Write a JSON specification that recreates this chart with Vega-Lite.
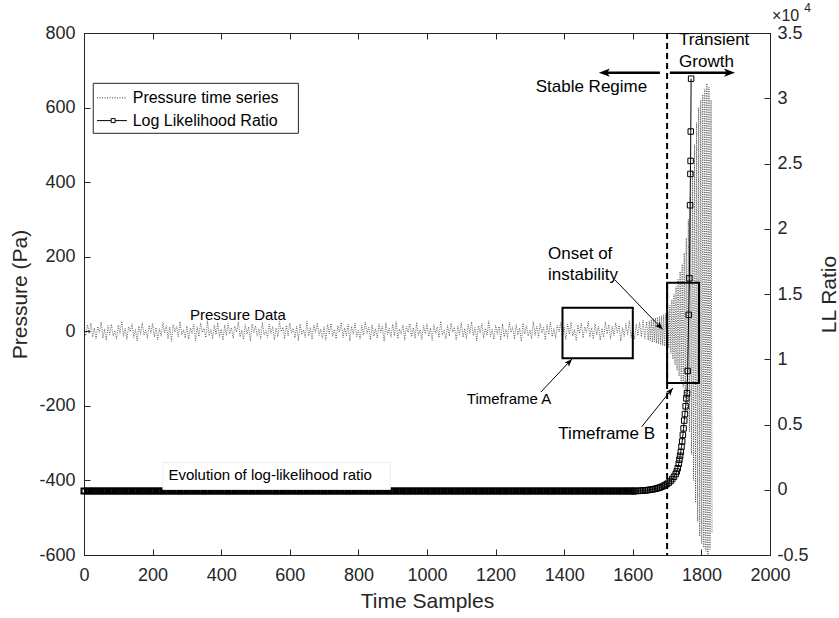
{
"$schema":"https://vega.github.io/schema/vega-lite/v6.json",
"width":686,"height":522,
"autosize":{"type":"none"},
"padding":{"left":84,"top":33,"right":69,"bottom":63},
"background":"white",
"config":{"font":"Liberation Sans","view":{"stroke":"#262626","strokeWidth":1},
"axis":{"domainColor":"#262626","domainWidth":1,"tickColor":"#262626","tickWidth":1,"labelColor":"#262626","titleColor":"#262626","labelFont":"Liberation Sans","titleFont":"Liberation Sans","labelFontSize":18,"titleFontSize":21,"titleFontWeight":"normal","grid":false,"labelFlush":false,"labelOverlap":false,"tickSize":-6}},
"datasets":{
"pres":[{"t":0,"p":4},{"t":5,"p":-12},{"t":10,"p":18},{"t":15,"p":-7},{"t":20,"p":22},{"t":25,"p":-15},{"t":30,"p":9},{"t":35,"p":-20},{"t":40,"p":13},{"t":45,"p":-3},{"t":50,"p":25},{"t":55,"p":-18},{"t":60,"p":6},{"t":65,"p":-24},{"t":70,"p":15},{"t":75,"p":-9},{"t":80,"p":19},{"t":85,"p":-13},{"t":90,"p":2},{"t":95,"p":-21},
{"t":100,"p":17},{"t":105,"p":-6},{"t":110,"p":27},{"t":115,"p":-14},{"t":120,"p":8},{"t":125,"p":-22},{"t":130,"p":12},{"t":135,"p":-1},{"t":140,"p":20},{"t":145,"p":-17},{"t":150,"p":5},{"t":155,"p":-26},{"t":160,"p":14},{"t":165,"p":-8},{"t":170,"p":23},{"t":175,"p":-11},{"t":180,"p":3},{"t":185,"p":-19},{"t":190,"p":16},{"t":195,"p":-5},
{"t":200,"p":21},{"t":205,"p":-16},{"t":210,"p":10},{"t":215,"p":-23},{"t":220,"p":7},{"t":225,"p":-13},{"t":230,"p":24},{"t":235,"p":-4},{"t":240,"p":15},{"t":245,"p":-20},{"t":250,"p":11},{"t":255,"p":-27},{"t":260,"p":18},{"t":265,"p":-2},{"t":270,"p":13},{"t":275,"p":-15},{"t":280,"p":26},{"t":285,"p":-10},{"t":290,"p":4},{"t":295,"p":-18},
{"t":300,"p":14},{"t":305,"p":-21},{"t":310,"p":9},{"t":315,"p":-6},{"t":320,"p":19},{"t":325,"p":-25},{"t":330,"p":12},{"t":335,"p":-14},{"t":340,"p":22},{"t":345,"p":-3},{"t":350,"p":8},{"t":355,"p":-17},{"t":360,"p":28},{"t":365,"p":-12},{"t":370,"p":5},{"t":375,"p":-20},{"t":380,"p":16},{"t":385,"p":-9},{"t":390,"p":23},{"t":395,"p":-16},
{"t":400,"p":6},{"t":405,"p":-24},{"t":410,"p":17},{"t":415,"p":-11},{"t":420,"p":21},{"t":425,"p":-7},{"t":430,"p":10},{"t":435,"p":-19},{"t":440,"p":14},{"t":445,"p":-2},{"t":450,"p":25},{"t":455,"p":-15},{"t":460,"p":3},{"t":465,"p":-22},{"t":470,"p":18},{"t":475,"p":-8},{"t":480,"p":12},{"t":485,"p":-26},{"t":490,"p":20},{"t":495,"p":-4},
{"t":500,"p":15},{"t":505,"p":-13},{"t":510,"p":7},{"t":515,"p":-21},{"t":520,"p":24},{"t":525,"p":-10},{"t":530,"p":2},{"t":535,"p":-17},{"t":540,"p":19},{"t":545,"p":-6},{"t":550,"p":13},{"t":555,"p":-23},{"t":560,"p":9},{"t":565,"p":-15},{"t":570,"p":26},{"t":575,"p":-1},{"t":580,"p":11},{"t":585,"p":-20},{"t":590,"p":16},{"t":595,"p":-12},
{"t":600,"p":22},{"t":605,"p":-5},{"t":610,"p":8},{"t":615,"p":-18},{"t":620,"p":14},{"t":625,"p":-25},{"t":630,"p":20},{"t":635,"p":-9},{"t":640,"p":4},{"t":645,"p":-16},{"t":650,"p":27},{"t":655,"p":-13},{"t":660,"p":10},{"t":665,"p":-22},{"t":670,"p":17},{"t":675,"p":-3},{"t":680,"p":23},{"t":685,"p":-11},{"t":690,"p":6},{"t":695,"p":-19},
{"t":700,"p":12},{"t":705,"p":-24},{"t":710,"p":18},{"t":715,"p":-7},{"t":720,"p":21},{"t":725,"p":-14},{"t":730,"p":5},{"t":735,"p":-20},{"t":740,"p":15},{"t":745,"p":-2},{"t":750,"p":24},{"t":755,"p":-17},{"t":760,"p":9},{"t":765,"p":-12},{"t":770,"p":19},{"t":775,"p":-26},{"t":780,"p":13},{"t":785,"p":-8},{"t":790,"p":22},{"t":795,"p":-15},
{"t":800,"p":3},{"t":805,"p":-21},{"t":810,"p":16},{"t":815,"p":-10},{"t":820,"p":25},{"t":825,"p":-6},{"t":830,"p":11},{"t":835,"p":-23},{"t":840,"p":18},{"t":845,"p":-13},{"t":850,"p":7},{"t":855,"p":-18},{"t":860,"p":20},{"t":865,"p":-4},{"t":870,"p":14},{"t":875,"p":-27},{"t":880,"p":23},{"t":885,"p":-9},{"t":890,"p":8},{"t":895,"p":-16},
{"t":900,"p":19},{"t":905,"p":-12},{"t":910,"p":26},{"t":915,"p":-20},{"t":920,"p":6},{"t":925,"p":-8},{"t":930,"p":17},{"t":935,"p":-24},{"t":940,"p":13},{"t":945,"p":-3},{"t":950,"p":21},{"t":955,"p":-15},{"t":960,"p":10},{"t":965,"p":-19},{"t":970,"p":24},{"t":975,"p":-11},{"t":980,"p":4},{"t":985,"p":-22},{"t":990,"p":15},{"t":995,"p":-7},
{"t":1000,"p":20},{"t":1005,"p":-14},{"t":1010,"p":9},{"t":1015,"p":-25},{"t":1020,"p":18},{"t":1025,"p":-5},{"t":1030,"p":12},{"t":1035,"p":-17},{"t":1040,"p":27},{"t":1045,"p":-10},{"t":1050,"p":3},{"t":1055,"p":-21},{"t":1060,"p":16},{"t":1065,"p":-13},{"t":1070,"p":22},{"t":1075,"p":-2},{"t":1080,"p":11},{"t":1085,"p":-23},{"t":1090,"p":14},{"t":1095,"p":-9},
{"t":1100,"p":23},{"t":1105,"p":-16},{"t":1110,"p":7},{"t":1115,"p":-20},{"t":1120,"p":19},{"t":1125,"p":-6},{"t":1130,"p":25},{"t":1135,"p":-12},{"t":1140,"p":10},{"t":1145,"p":-26},{"t":1150,"p":15},{"t":1155,"p":-4},{"t":1160,"p":21},{"t":1165,"p":-18},{"t":1170,"p":8},{"t":1175,"p":-11},{"t":1180,"p":28},{"t":1185,"p":-14},{"t":1190,"p":5},{"t":1195,"p":-22},
{"t":1200,"p":17},{"t":1205,"p":-8},{"t":1210,"p":13},{"t":1215,"p":-24},{"t":1220,"p":20},{"t":1225,"p":-15},{"t":1230,"p":6},{"t":1235,"p":-19},{"t":1240,"p":24},{"t":1245,"p":-3},{"t":1250,"p":12},{"t":1255,"p":-21},{"t":1260,"p":18},{"t":1265,"p":-10},{"t":1270,"p":9},{"t":1275,"p":-27},{"t":1280,"p":22},{"t":1285,"p":-7},{"t":1290,"p":15},{"t":1295,"p":-13},
{"t":1300,"p":4},{"t":1305,"p":-20},{"t":1310,"p":26},{"t":1315,"p":-11},{"t":1320,"p":14},{"t":1325,"p":-17},{"t":1330,"p":21},{"t":1335,"p":-5},{"t":1340,"p":10},{"t":1345,"p":-23},{"t":1350,"p":18},{"t":1355,"p":-9},{"t":1360,"p":25},{"t":1365,"p":-14},{"t":1370,"p":7},{"t":1375,"p":-19},{"t":1380,"p":16},{"t":1385,"p":-2},{"t":1390,"p":23},{"t":1395,"p":-16},
{"t":1400,"p":11},{"t":1405,"p":-22},{"t":1410,"p":19},{"t":1415,"p":-8},{"t":1420,"p":24},{"t":1425,"p":-13},{"t":1430,"p":5},{"t":1435,"p":-25},{"t":1440,"p":17},{"t":1445,"p":-6},{"t":1450,"p":22},{"t":1455,"p":-18},{"t":1460,"p":12},{"t":1465,"p":-3},{"t":1470,"p":27},{"t":1475,"p":-15},{"t":1480,"p":9},{"t":1485,"p":-21},{"t":1490,"p":20},{"t":1495,"p":-10},
{"t":1500,"p":14},{"t":1505,"p":-24},{"t":1510,"p":8},{"t":1515,"p":-16},{"t":1520,"p":25},{"t":1525,"p":-7},{"t":1530,"p":18},{"t":1535,"p":-20},{"t":1540,"p":13},{"t":1545,"p":-11},{"t":1550,"p":23},{"t":1555,"p":-4},{"t":1560,"p":16},{"t":1565,"p":-26},{"t":1570,"p":10},{"t":1575,"p":-14},{"t":1580,"p":21},{"t":1585,"p":-9},{"t":1590,"p":28},{"t":1595,"p":-17},
{"t":1600,"p":6},{"t":1605,"p":-22},{"t":1610,"p":19},{"t":1615,"p":-12},{"t":1620,"p":24},{"t":1625,"p":-15},{"t":1630,"p":30},{"t":1635,"p":-20},{"t":1640,"p":26},
{"t":1645,"p":-24},{"t":1648,"p":28},{"t":1651,"p":-26},{"t":1654,"p":32},{"t":1657,"p":-30},{"t":1660,"p":34},{"t":1663,"p":-28},{"t":1666,"p":36},{"t":1669,"p":-32},{"t":1672,"p":38},{"t":1675,"p":-34},{"t":1678,"p":40},{"t":1681,"p":-36},{"t":1684,"p":42},{"t":1687,"p":-38},{"t":1690,"p":45},{"t":1693,"p":-40},{"t":1696,"p":48},{"t":1699,"p":-30},{"t":1702,"p":55},{"t":1705,"p":-45},{"t":1708,"p":70},{"t":1711,"p":-60},{"t":1714,"p":85},{"t":1717,"p":-75},{"t":1720,"p":100},{"t":1723,"p":-90},{"t":1726,"p":120},{"t":1729,"p":-105},{"t":1732,"p":140},{"t":1735,"p":-120},{"t":1738,"p":160},{"t":1741,"p":-135},{"t":1744,"p":180},{"t":1747,"p":-150},{"t":1750,"p":210},{"t":1753,"p":-180},{"t":1756,"p":250},{"t":1759,"p":-220},{"t":1762,"p":300},{"t":1765,"p":-270},{"t":1768,"p":360},{"t":1771,"p":-330},{"t":1774,"p":430},{"t":1777,"p":-400},{"t":1780,"p":500},{"t":1783,"p":-460},{"t":1786,"p":560},{"t":1789,"p":-510},{"t":1792,"p":600},{"t":1795,"p":-550},{"t":1798,"p":620},{"t":1801,"p":-570},{"t":1804,"p":635},{"t":1807,"p":-580},{"t":1810,"p":650},{"t":1813,"p":-590},{"t":1816,"p":665},{"t":1819,"p":-600},{"t":1822,"p":655},{"t":1825,"p":-585},{"t":1828,"p":620},{"t":1831,"p":-540}],
"llflat":[{"t":0,"l":-0.01},{"t":10,"l":-0.01},{"t":20,"l":-0.01},{"t":30,"l":-0.01},{"t":40,"l":-0.01},{"t":50,"l":-0.01},{"t":60,"l":-0.01},{"t":70,"l":-0.01},{"t":80,"l":-0.01},{"t":90,"l":-0.01},{"t":100,"l":-0.01},{"t":110,"l":-0.01},{"t":120,"l":-0.01},{"t":130,"l":-0.01},{"t":140,"l":-0.01},{"t":150,"l":-0.01},{"t":160,"l":-0.01},{"t":170,"l":-0.01},{"t":180,"l":-0.01},{"t":190,"l":-0.01},{"t":200,"l":-0.01},{"t":210,"l":-0.01},{"t":220,"l":-0.01},{"t":230,"l":-0.01},{"t":240,"l":-0.01},{"t":250,"l":-0.01},{"t":260,"l":-0.01},{"t":270,"l":-0.01},{"t":280,"l":-0.01},{"t":290,"l":-0.01},{"t":300,"l":-0.01},{"t":310,"l":-0.01},{"t":320,"l":-0.01},{"t":330,"l":-0.01},{"t":340,"l":-0.01},{"t":350,"l":-0.01},{"t":360,"l":-0.01},{"t":370,"l":-0.01},{"t":380,"l":-0.01},{"t":390,"l":-0.01},{"t":400,"l":-0.01},{"t":410,"l":-0.01},{"t":420,"l":-0.01},{"t":430,"l":-0.01},{"t":440,"l":-0.01},{"t":450,"l":-0.01},{"t":460,"l":-0.01},{"t":470,"l":-0.01},{"t":480,"l":-0.01},{"t":490,"l":-0.01},{"t":500,"l":-0.01},{"t":510,"l":-0.01},{"t":520,"l":-0.01},{"t":530,"l":-0.01},{"t":540,"l":-0.01},{"t":550,"l":-0.01},{"t":560,"l":-0.01},{"t":570,"l":-0.01},{"t":580,"l":-0.01},{"t":590,"l":-0.01},{"t":600,"l":-0.01},{"t":610,"l":-0.01},{"t":620,"l":-0.01},{"t":630,"l":-0.01},{"t":640,"l":-0.01},{"t":650,"l":-0.01},{"t":660,"l":-0.01},{"t":670,"l":-0.01},{"t":680,"l":-0.01},{"t":690,"l":-0.01},{"t":700,"l":-0.01},{"t":710,"l":-0.01},{"t":720,"l":-0.01},{"t":730,"l":-0.01},{"t":740,"l":-0.01},{"t":750,"l":-0.01},{"t":760,"l":-0.01},{"t":770,"l":-0.01},{"t":780,"l":-0.01},{"t":790,"l":-0.01},{"t":800,"l":-0.01},{"t":810,"l":-0.01},{"t":820,"l":-0.01},{"t":830,"l":-0.01},{"t":840,"l":-0.01},{"t":850,"l":-0.01},{"t":860,"l":-0.01},{"t":870,"l":-0.01},{"t":880,"l":-0.01},{"t":890,"l":-0.01},{"t":900,"l":-0.01},{"t":910,"l":-0.01},{"t":920,"l":-0.01},{"t":930,"l":-0.01},{"t":940,"l":-0.01},{"t":950,"l":-0.01},{"t":960,"l":-0.01},{"t":970,"l":-0.01},{"t":980,"l":-0.01},{"t":990,"l":-0.01},{"t":1000,"l":-0.01},{"t":1010,"l":-0.01},{"t":1020,"l":-0.01},{"t":1030,"l":-0.01},{"t":1040,"l":-0.01},{"t":1050,"l":-0.01},{"t":1060,"l":-0.01},{"t":1070,"l":-0.01},{"t":1080,"l":-0.01},{"t":1090,"l":-0.01},{"t":1100,"l":-0.01},{"t":1110,"l":-0.01},{"t":1120,"l":-0.01},{"t":1130,"l":-0.01},{"t":1140,"l":-0.01},{"t":1150,"l":-0.01},{"t":1160,"l":-0.01},{"t":1170,"l":-0.01},{"t":1180,"l":-0.01},{"t":1190,"l":-0.01},{"t":1200,"l":-0.01},{"t":1210,"l":-0.01},{"t":1220,"l":-0.01},{"t":1230,"l":-0.01},{"t":1240,"l":-0.01},{"t":1250,"l":-0.01},{"t":1260,"l":-0.01},{"t":1270,"l":-0.01},{"t":1280,"l":-0.01},{"t":1290,"l":-0.01},{"t":1300,"l":-0.01},{"t":1310,"l":-0.01},{"t":1320,"l":-0.01},{"t":1330,"l":-0.01},{"t":1340,"l":-0.01},{"t":1350,"l":-0.01},{"t":1360,"l":-0.01},{"t":1370,"l":-0.01},{"t":1380,"l":-0.01},{"t":1390,"l":-0.01},{"t":1400,"l":-0.01},{"t":1410,"l":-0.01},{"t":1420,"l":-0.01},{"t":1430,"l":-0.01},{"t":1440,"l":-0.01},{"t":1450,"l":-0.01},{"t":1460,"l":-0.01},{"t":1470,"l":-0.01},{"t":1480,"l":-0.01},{"t":1490,"l":-0.01},{"t":1500,"l":-0.01},{"t":1510,"l":-0.01},{"t":1520,"l":-0.01},{"t":1530,"l":-0.01},{"t":1540,"l":-0.01},{"t":1550,"l":-0.01},{"t":1560,"l":-0.01},{"t":1570,"l":-0.01},{"t":1580,"l":-0.01},{"t":1590,"l":-0.01},{"t":1600,"l":-0.01}],
"llrise":[{"t":1600,"l":-0.01},{"t":1605,"l":-0.01},{"t":1610,"l":-0.009},{"t":1615,"l":-0.009},{"t":1620,"l":-0.008},{"t":1625,"l":-0.007},{"t":1630,"l":-0.006},{"t":1635,"l":-0.005},{"t":1640,"l":-0.004},{"t":1645,"l":-0.002},{"t":1650,"l":0},{"t":1655,"l":0.002},{"t":1660,"l":0.004},{"t":1665,"l":0.007},{"t":1670,"l":0.01},{"t":1675,"l":0.014},{"t":1680,"l":0.018},{"t":1685,"l":0.023},{"t":1690,"l":0.03},{"t":1695,"l":0.037},{"t":1700,"l":0.045},{"t":1705,"l":0.055},{"t":1710,"l":0.067},{"t":1715,"l":0.082},{"t":1720,"l":0.1},{"t":1725,"l":0.12},{"t":1728,"l":0.14},{"t":1731,"l":0.165},{"t":1734,"l":0.2},{"t":1736,"l":0.23},{"t":1738,"l":0.26},{"t":1740,"l":0.29},{"t":1742,"l":0.33},{"t":1744,"l":0.37},{"t":1746,"l":0.42},{"t":1748,"l":0.47},{"t":1750,"l":0.53},{"t":1752,"l":0.58},{"t":1754,"l":0.64},{"t":1756,"l":0.7},{"t":1758,"l":0.74},{"t":1760,"l":0.91},{"t":1763,"l":1.34},{"t":1765,"l":1.62},{"t":1767,"l":2.18},{"t":1768,"l":2.42},{"t":1768.5,"l":2.52},{"t":1769,"l":2.745},{"t":1770,"l":3.15}]
},
"resolve":{"scale":{"y":"independent"},"axis":{"x":"independent"}},
"layer":[
{"data":{"name":"pres"},
 "mark":{"type":"line","stroke":"#222222","strokeWidth":0.7,"strokeDash":[1,1.3]},
 "encoding":{
  "x":{"field":"t","type":"quantitative","scale":{"domain":[0,2000],"nice":false,"zero":false},
   "axis":{"orient":"bottom","values":[0,200,400,600,800,1000,1200,1400,1600,1800,2000],"labelExpr":"'' + datum.value","title":"Time Samples","labelPadding":17,"titlePadding":6}},
  "y":{"field":"p","type":"quantitative","scale":{"domain":[-600,800],"nice":false,"zero":false},
   "axis":{"orient":"left","values":[-600,-400,-200,0,200,400,600,800],"labelExpr":"'' + datum.value","title":"Pressure (Pa)","labelPadding":15,"titlePadding":8}}}},
{"layer":[
 {"data":{"name":"llrise"},"mark":{"type":"line","stroke":"#000","strokeWidth":1},
  "encoding":{"x":{"field":"t","type":"quantitative","scale":{"domain":[0,2000],"nice":false,"zero":false},"axis":null},
   "y":{"field":"l","type":"quantitative","scale":{"domain":[-0.5,3.5],"nice":false,"zero":false},
    "axis":{"orient":"right","values":[-0.5,0,0.5,1,1.5,2,2.5,3,3.5],"labelExpr":"'' + datum.value","title":"LL Ratio","titleAngle":270,"titleBaseline":"top","labelPadding":13,"titlePadding":10}}}},
 {"data":{"name":"llflat"},"mark":{"type":"line","stroke":"#000","strokeWidth":1},
  "encoding":{"x":{"field":"t","type":"quantitative"},"y":{"field":"l","type":"quantitative"}}},
 {"data":{"name":"llflat"},"mark":{"type":"point","shape":"square","filled":false,"stroke":"#000","strokeWidth":2,"size":25,"opacity":1},
  "encoding":{"x":{"field":"t","type":"quantitative"},"y":{"field":"l","type":"quantitative"}}},
 {"data":{"name":"llrise"},"mark":{"type":"point","shape":"square","filled":false,"stroke":"#000","strokeWidth":1,"size":30,"opacity":1},
  "encoding":{"x":{"field":"t","type":"quantitative"},"y":{"field":"l","type":"quantitative"}}}
]},
{"layer":[
 {"data":{"values":[{"x":230,"x2":893,"y":-352,"y2":-424}]},"mark":{"type":"rect","fill":"white","stroke":"#eeeeee","strokeWidth":1},
  "encoding":{"x":{"field":"x","type":"quantitative","scale":{"domain":[0,2000],"nice":false,"zero":false},
    "axis":{"orient":"top","values":[0,200,400,600,800,1000,1200,1400,1600,1800,2000],"labels":false,"title":null,"tickSize":-6}},
   "x2":{"field":"x2"},
   "y":{"field":"y","type":"quantitative","scale":{"domain":[-600,800],"nice":false,"zero":false},"axis":null},"y2":{"field":"y2"}}},
 {"data":{"values":[{"x":1395,"x2":1600,"y":-72,"y2":63},{"x":1700,"x2":1793,"y":-139,"y2":130}]},"mark":{"type":"rect","filled":false,"stroke":"#000","strokeWidth":2},
  "encoding":{"x":{"field":"x","type":"quantitative"},"x2":{"field":"x2"},"y":{"field":"y","type":"quantitative","axis":null},"y2":{"field":"y2"}}},
 {"data":{"values":[{"x":1700}]},"mark":{"type":"rule","stroke":"#000","strokeWidth":2,"strokeDash":[6,4]},
  "encoding":{"x":{"field":"x","type":"quantitative"}}},
 {"data":{"values":[{"x":1548,"y":138,"x2":1687,"y2":5},{"x":1332,"y":-163,"x2":1423,"y2":-74},{"x":1626,"y":-256,"x2":1717,"y2":-152}]},"mark":{"type":"rule","stroke":"#000","strokeWidth":1},
  "encoding":{"x":{"field":"x","type":"quantitative"},"x2":{"field":"x2"},"y":{"field":"y","type":"quantitative","axis":null},"y2":{"field":"y2"}}},
 {"data":{"values":[{"x":1679,"y":693.5,"x2":1515,"y2":693.5},{"x":1708,"y":693.5,"x2":1885,"y2":693.5}]},"mark":{"type":"rule","stroke":"#000","strokeWidth":2.5},
  "encoding":{"x":{"field":"x","type":"quantitative"},"x2":{"field":"x2"},"y":{"field":"y","type":"quantitative","axis":null},"y2":{"field":"y2"}}},
 {"data":{"values":[{"x":1687,"y":5}]},"mark":{"type":"point","shape":"M0,0L0.6,1.6L0,1.2L-0.6,1.6Z","filled":true,"fill":"#000","strokeWidth":0,"size":100,"angle":136,"opacity":1},
  "encoding":{"x":{"field":"x","type":"quantitative"},"y":{"field":"y","type":"quantitative","axis":null}}},
 {"data":{"values":[{"x":1423,"y":-74}]},"mark":{"type":"point","shape":"M0,0L0.6,1.6L0,1.2L-0.6,1.6Z","filled":true,"fill":"#000","strokeWidth":0,"size":100,"angle":43,"opacity":1},
  "encoding":{"x":{"field":"x","type":"quantitative"},"y":{"field":"y","type":"quantitative","axis":null}}},
 {"data":{"values":[{"x":1717,"y":-152}]},"mark":{"type":"point","shape":"M0,0L0.6,1.6L0,1.2L-0.6,1.6Z","filled":true,"fill":"#000","strokeWidth":0,"size":100,"angle":39,"opacity":1},
  "encoding":{"x":{"field":"x","type":"quantitative"},"y":{"field":"y","type":"quantitative","axis":null}}},
 {"data":{"values":[{"x":1501,"y":693.5}]},"mark":{"type":"point","shape":"M0,0L0.6,1.6L0,1.2L-0.6,1.6Z","filled":true,"fill":"#000","strokeWidth":0,"size":190,"angle":270,"opacity":1},
  "encoding":{"x":{"field":"x","type":"quantitative"},"y":{"field":"y","type":"quantitative","axis":null}}},
 {"data":{"values":[{"x":1898,"y":693.5}]},"mark":{"type":"point","shape":"M0,0L0.6,1.6L0,1.2L-0.6,1.6Z","filled":true,"fill":"#000","strokeWidth":0,"size":190,"angle":90,"opacity":1},
  "encoding":{"x":{"field":"x","type":"quantitative"},"y":{"field":"y","type":"quantitative","axis":null}}},
 {"data":{"values":[{"x":1735,"y":780,"label":"Transient"},{"x":1735,"y":723,"label":"Growth"},{"x":1353,"y":207,"label":"Onset of"},{"x":1353,"y":152,"label":"instability"},{"x":1383,"y":-275,"label":"Timeframe B"}]},
  "mark":{"type":"text","align":"left","baseline":"middle","fontSize":17,"color":"#000","font":"Liberation Sans"},
  "encoding":{"x":{"field":"x","type":"quantitative"},"y":{"field":"y","type":"quantitative","axis":null},"text":{"field":"label"}}},
 {"data":{"values":[{"x":1642,"y":654,"label":"Stable Regime"}]},
  "mark":{"type":"text","align":"right","baseline":"middle","fontSize":17,"color":"#000","font":"Liberation Sans"},
  "encoding":{"x":{"field":"x","type":"quantitative"},"y":{"field":"y","type":"quantitative","axis":null},"text":{"field":"label"}}},
 {"data":{"values":[{"x":1116,"y":-181,"label":"Timeframe A"},{"x":309,"y":44,"label":"Pressure Data"},{"x":246,"y":-385,"label":"Evolution of log-likelihood ratio"}]},
  "mark":{"type":"text","align":"left","baseline":"middle","fontSize":15,"color":"#000","font":"Liberation Sans"},
  "encoding":{"x":{"field":"x","type":"quantitative"},"y":{"field":"y","type":"quantitative","axis":null},"text":{"field":"label"}}},
 {"data":{"values":[{"x":27,"x2":625,"y":531,"y2":665}]},"mark":{"type":"rect","fill":"white","stroke":"#262626","strokeWidth":1},
  "encoding":{"x":{"field":"x","type":"quantitative"},"x2":{"field":"x2"},"y":{"field":"y","type":"quantitative","axis":null},"y2":{"field":"y2"}}},
 {"data":{"values":[{"x":38,"x2":125,"y":626}]},"mark":{"type":"rule","stroke":"#000","strokeWidth":0.8,"strokeDash":[1,1.5]},
  "encoding":{"x":{"field":"x","type":"quantitative"},"x2":{"field":"x2"},"y":{"field":"y","type":"quantitative","axis":null}}},
 {"data":{"values":[{"x":38,"x2":125,"y":565}]},"mark":{"type":"rule","stroke":"#000","strokeWidth":1},
  "encoding":{"x":{"field":"x","type":"quantitative"},"x2":{"field":"x2"},"y":{"field":"y","type":"quantitative","axis":null}}},
 {"data":{"values":[{"x":85,"y":565}]},"mark":{"type":"point","shape":"square","filled":true,"fill":"white","stroke":"#000","strokeWidth":1,"size":16,"opacity":1},
  "encoding":{"x":{"field":"x","type":"quantitative"},"y":{"field":"y","type":"quantitative","axis":null}}},
 {"data":{"values":[{"x":142,"y":625,"label":"Pressure time series"},{"x":142,"y":565,"label":"Log Likelihood Ratio"}]},
  "mark":{"type":"text","align":"left","baseline":"middle","fontSize":16,"color":"#000","font":"Liberation Sans"},
  "encoding":{"x":{"field":"x","type":"quantitative"},"y":{"field":"y","type":"quantitative","axis":null},"text":{"field":"label"}}},
 {"data":{"values":[{"x":2006,"y":845,"label":"×10"}]},
  "mark":{"type":"text","align":"left","baseline":"middle","fontSize":16,"color":"#262626","font":"Liberation Sans"},
  "encoding":{"x":{"field":"x","type":"quantitative"},"y":{"field":"y","type":"quantitative","axis":null},"text":{"field":"label"}}},
 {"data":{"values":[{"x":2100,"y":868,"label":"4"}]},
  "mark":{"type":"text","align":"left","baseline":"middle","fontSize":12,"color":"#262626","font":"Liberation Sans"},
  "encoding":{"x":{"field":"x","type":"quantitative"},"y":{"field":"y","type":"quantitative","axis":null},"text":{"field":"label"}}}
]}
]
}
